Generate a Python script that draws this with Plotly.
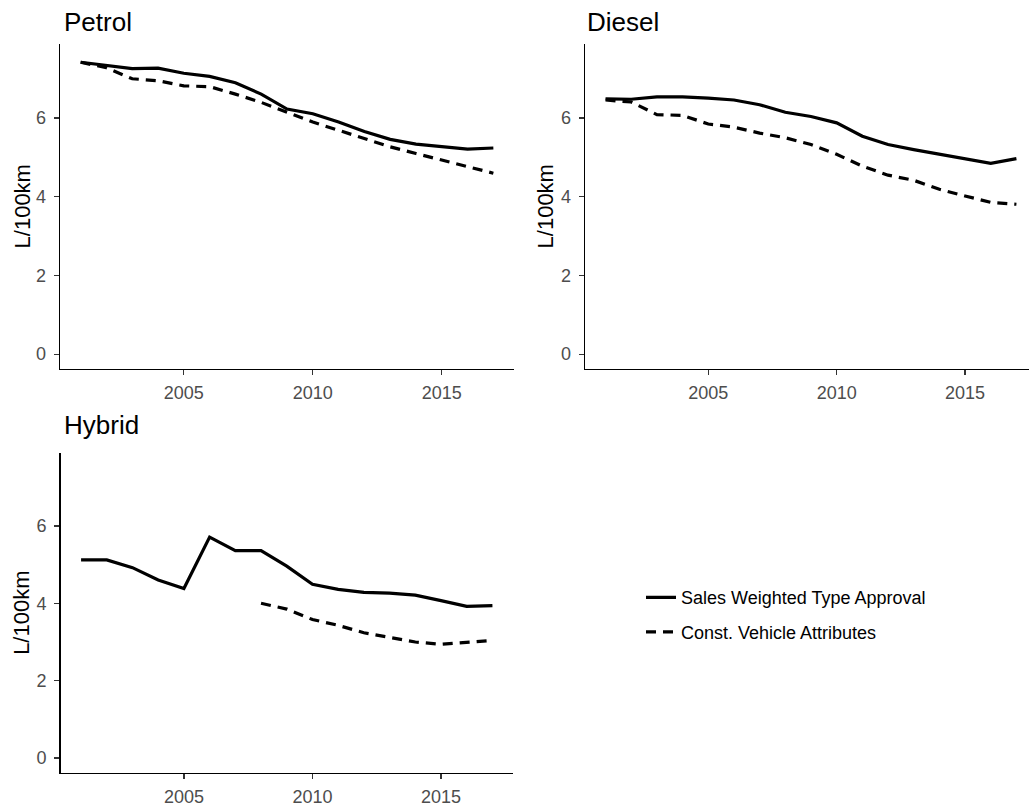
import plotly.graph_objects as go

years = list(range(2001, 2018))

petrol_sales = [7.42, 7.34, 7.26, 7.27, 7.14, 7.06, 6.90, 6.61, 6.23, 6.11, 5.90, 5.66, 5.46, 5.34, 5.27, 5.21, 5.24]
petrol_const = [7.42, 7.28, 7.00, 6.95, 6.82, 6.80, 6.61, 6.40, 6.15, 5.90, 5.69, 5.48, 5.27, 5.10, 4.93, 4.77, 4.60]

diesel_sales = [6.49, 6.48, 6.54, 6.54, 6.51, 6.46, 6.34, 6.15, 6.04, 5.88, 5.54, 5.33, 5.20, 5.08, 4.95, 4.85, 4.97]
diesel_const = [6.46, 6.41, 6.09, 6.07, 5.85, 5.77, 5.62, 5.50, 5.33, 5.08, 4.78, 4.55, 4.42, 4.19, 4.02, 3.86, 3.81]

hybrid_sales = [5.12, 5.12, 4.92, 4.60, 4.38, 5.71, 5.36, 5.36, 4.96, 4.49, 4.36, 4.28, 4.26, 4.21, 4.07, 3.92, 3.94]
hybrid_const_years = list(range(2008, 2018))
hybrid_const = [4.00, 3.85, 3.58, 3.43, 3.24, 3.13, 3.00, 2.94, 2.98, 3.04]

panel_titles = ["Petrol", "Diesel", "Hybrid"]
series_names = ["Sales Weighted Type Approval", "Const. Vehicle Attributes"]
x_ticks = [2005, 2010, 2015]
y_ticks = [0, 2, 4, 6]
y_label = "L/100km"

W, H = 1029, 807
FONT = "Liberation Sans, Arial, sans-serif"

def px(v):
    return v / W

def py(v):
    return 1 - v / H

fig = go.Figure()

panels = [
    ("x", "y", years, petrol_sales, years, petrol_const),
    ("x2", "y2", years, diesel_sales, years, diesel_const),
    ("x3", "y3", years, hybrid_sales, hybrid_const_years, hybrid_const),
]

for i, (xa, ya, sx, sy, cx, cy) in enumerate(panels):
    fig.add_trace(go.Scatter(
        x=sx, y=sy, xaxis=xa, yaxis=ya, mode="lines",
        line=dict(color="black", width=3.2),
        name=series_names[0], legendgroup="sales", showlegend=(i == 0),
        hoverinfo="skip"))
    fig.add_trace(go.Scatter(
        x=cx, y=cy, xaxis=xa, yaxis=ya, mode="lines",
        line=dict(color="black", width=3.2, dash="10px,7px"),
        name=series_names[1], legendgroup="const", showlegend=(i == 0),
        hoverinfo="skip"))

axis_common = dict(
    showline=True, linecolor="black", linewidth=1.3,
    ticks="outside", ticklen=5, tickwidth=1.3, tickcolor="#333333",
    showgrid=False, zeroline=False,
    tickfont=dict(family=FONT, size=18, color="#4d4d4d"),
    fixedrange=True,
)

xdomains = [[60 / W, 514 / W], [585 / W, 1.0], [60.5 / W, 513 / W]]
xranges = [[2000.2, 2017.8], [2000.2, 2017.49], [2000.2, 2017.8]]
ydomains = [[py(372.6), py(44.8)], [py(372.6), py(44.8)], [py(780.4), py(457.8)]]

layout = dict(
    width=W, height=H,
    margin=dict(l=0, r=0, t=0, b=0),
    plot_bgcolor="white", paper_bgcolor="white",
    font=dict(family=FONT, color="black"),
    showlegend=True,
    legend=dict(
        x=px(641), y=py(585), xanchor="left", yanchor="top",
        font=dict(family=FONT, size=18, color="black"),
        itemwidth=30, tracegroupgap=8, traceorder="grouped",
        bgcolor="rgba(0,0,0,0)",
    ),
)

suffixes = ["", "2", "3"]
for i, s in enumerate(suffixes):
    layout["xaxis" + s] = dict(
        axis_common, domain=xdomains[i], range=xranges[i],
        tickvals=x_ticks, ticktext=[str(t) for t in x_ticks],
        anchor="y" + s, ticklabelstandoff=2,
    )
    layout["yaxis" + s] = dict(
        axis_common, domain=ydomains[i], range=[-0.375, 7.875],
        tickvals=y_ticks, ticktext=[str(t) for t in y_ticks],
        anchor="x" + s, ticklabelstandoff=4,
    )

fig.update_layout(**layout)

title_pos = [(62, 22.5), (585, 22.5), (62, 429.5)]
for t, (tx, ty) in zip(panel_titles, title_pos):
    fig.add_annotation(
        text=t, x=px(tx), y=py(ty), xref="paper", yref="paper",
        xanchor="left", yanchor="middle", showarrow=False,
        font=dict(family=FONT, size=26, color="black"))

ytitle_pos = [(22, 208.5), (545, 208.5), (22, 619)]
for (tx, ty) in ytitle_pos:
    fig.add_annotation(
        text=y_label, x=px(tx), y=py(ty), xref="paper", yref="paper",
        xanchor="center", yanchor="middle", showarrow=False, textangle=-90,
        font=dict(family=FONT, size=22, color="black"))

fig.write_html(
    "out.html",
    config={"displayModeBar": False, "staticPlot": True},
    post_script="document.body.style.margin='0';document.body.style.overflow='hidden';",
)
